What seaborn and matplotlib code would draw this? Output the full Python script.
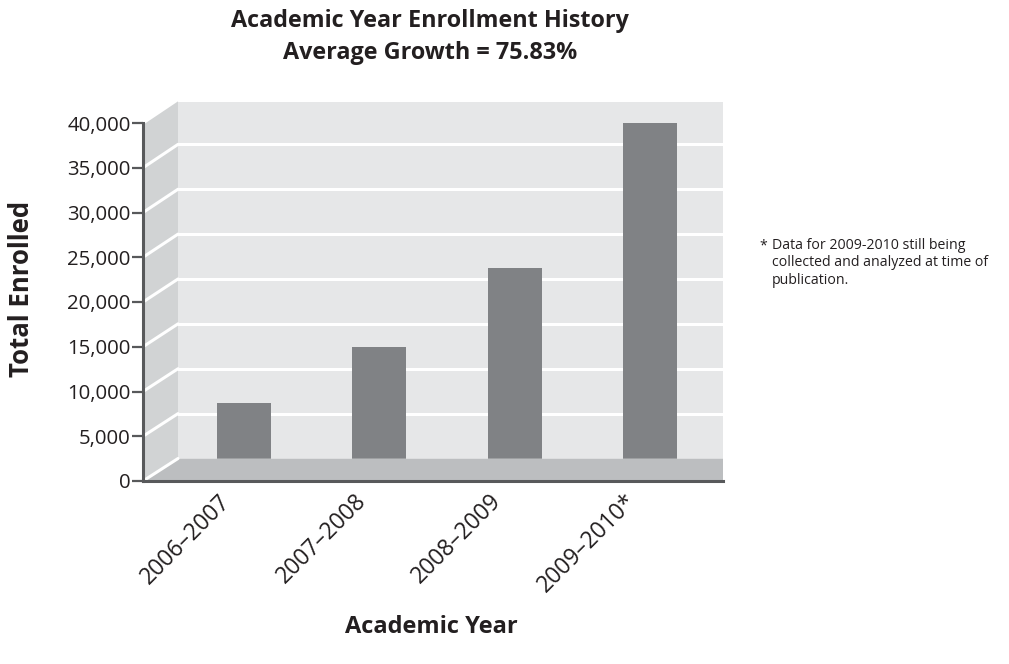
import matplotlib
matplotlib.use("Agg")
import matplotlib.pyplot as plt
import seaborn as sns
import numpy as np
from matplotlib.patches import Polygon
from matplotlib.lines import Line2D
from matplotlib.transforms import ScaledTranslation

years = ["2006\u20132007", "2007\u20132008", "2008\u20132009", "2009\u20132010*"]
enrolled = [6180, 12420, 21230, 37380]
yticks = [0, 5000, 10000, 15000, 20000, 25000, 30000, 35000, 40000]
ytick_labels = ["0", "5,000", "10,000", "15,000", "20,000", "25,000", "30,000", "35,000", "40,000"]

sns.set_style("white")
plt.rcParams['font.family'] = ['Open Sans', 'DejaVu Sans']

W, H = 1009, 664
fig = plt.figure(figsize=(W / 100, H / 100), dpi=100)

def fx(px):
    return px / W

def fy(py):
    return 1 - py / H

BACK = "#e6e7e8"
SIDE = "#d1d3d4"
FLOOR = "#bcbec0"
BAR = "#808285"
AX = "#58595b"
TXT = "#231f20"

# back wall axes (bars live here)
bl, br, bb, bt = 178, 723, 458.5, 99.5
axb = fig.add_axes([fx(bl), fy(bb), fx(br - bl), fy(bt) - fy(bb)])
axb.set_facecolor(BACK)
sns.barplot(x=years, y=enrolled, ax=axb, color=BAR, width=0.4, saturation=1,
            edgecolor="none", linewidth=0, zorder=3)
axb.set_ylim(0, 40000)
axb.set_xlim(-0.488, 3.54)
axb.set_yticks(yticks)
axb.tick_params(axis="y", left=False, labelleft=False)
axb.yaxis.grid(True, color="white", linewidth=2.2)
axb.set_axisbelow(True)
for s in axb.spines.values():
    s.set_visible(False)
axb.set_ylabel("")
axb.set_xlabel("")
axb.tick_params(axis="x", bottom=False, pad=25, labelsize=16.5, labelcolor=TXT)
axb.set_xticks(range(len(years)))
axb.set_xticklabels(years, rotation=45, ha="right", va="center", rotation_mode="anchor")
for lab in axb.get_xticklabels():
    lab.set_transform(lab.get_transform() + ScaledTranslation(-0.17, 0, fig.dpi_scale_trans))

# front axes (axis lines and value ticks)
fl, fr, fb, ft = 143, 723, 481, 123
axf = fig.add_axes([fx(fl), fy(fb), fx(fr - fl), fy(ft) - fy(fb)], zorder=3)
axf.patch.set_alpha(0)
axf.set_ylim(0, 40000)
axf.set_xlim(0, 1)
axf.set_yticks(yticks)
axf.set_yticklabels(ytick_labels)
axf.set_xticks([])
for k in ["top", "right"]:
    axf.spines[k].set_visible(False)
for k in ["left", "bottom"]:
    axf.spines[k].set_color(AX)
    axf.spines[k].set_linewidth(2.2)
axf.tick_params(axis="y", left=True, length=8, width=1.6, color=AX, pad=1.0,
                labelsize=14.7, labelcolor=TXT)

# side wall and floor (decoration, in figure fraction)
side = Polygon([(fx(fl), fy(fb)), (fx(bl), fy(bb)), (fx(bl), fy(bt)), (fx(fl), fy(ft))],
               closed=True, transform=fig.transFigure, facecolor=SIDE, edgecolor="none", zorder=1)
floor = Polygon([(fx(fl), fy(fb)), (fx(bl), fy(bb)), (fx(br), fy(bb)), (fx(fr), fy(fb))],
                closed=True, transform=fig.transFigure, facecolor=FLOOR, edgecolor="none", zorder=1)
fig.patches.extend([side, floor])

fig.canvas.draw()
for v in yticks:
    p1 = axf.transData.transform((0, v))
    p2 = axb.transData.transform((axb.get_xlim()[0], v))
    q1 = fig.transFigure.inverted().transform(p1)
    q2 = fig.transFigure.inverted().transform(p2)
    fig.lines.append(Line2D([q1[0], q2[0]], [q1[1], q2[1]], transform=fig.transFigure,
                            color="white", linewidth=2.2, zorder=2))

# texts
fig.text(fx(430), fy(21), "Academic Year Enrollment History", ha="center", va="center",
         fontsize=16.8, fontweight="bold", color=TXT)
fig.text(fx(430), fy(53), "Average Growth = 75.83%", ha="center", va="center",
         fontsize=16.8, fontweight="bold", color=TXT)
fig.text(fx(22), fy(289), "Total Enrolled", ha="center", va="center", rotation=90,
         fontsize=18.5, fontweight="bold", color=TXT)
fig.text(fx(431), fy(627), "Academic Year", ha="center", va="center",
         fontsize=17, fontweight="bold", color=TXT)
fig.text(fx(759), fy(246), "*", ha="left", va="center", fontsize=10.2, color=TXT)
fig.text(fx(772), fy(246), "Data for 2009-2010 still being", ha="left", va="center",
         fontsize=10.2, color=TXT)
fig.text(fx(772), fy(263), "collected and analyzed at time of", ha="left", va="center",
         fontsize=10.2, color=TXT)
fig.text(fx(772), fy(280), "publication.", ha="left", va="center",
         fontsize=10.2, color=TXT)

fig.savefig("out.png", dpi=100)
